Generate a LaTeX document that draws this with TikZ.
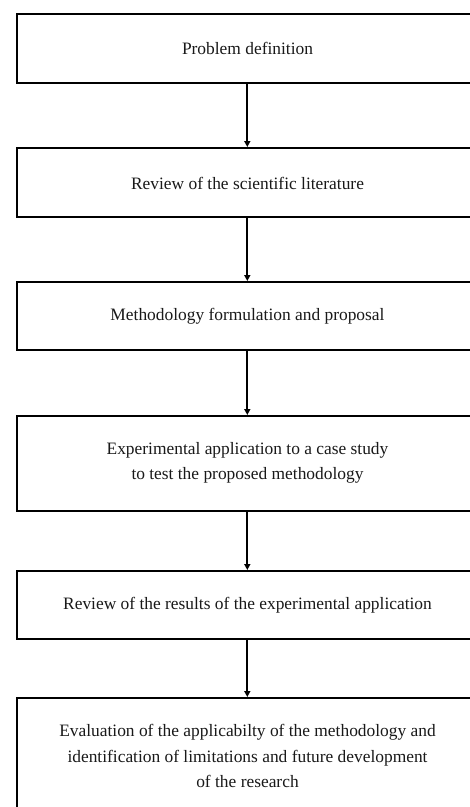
\documentclass[tikz,border=0pt]{standalone}
\usepackage{fontspec}
\setmainfont{Liberation Serif}
\usetikzlibrary{arrows.meta}
\begin{document}
\begin{tikzpicture}[x=1pt,y=-1pt,
  stepbox/.style={draw=black, line width=2.2pt, rectangle, inner sep=0pt},
  lbl/.style={font=\fontsize{17.4pt}{25.5pt}\selectfont, align=center, text=black!90},
  conn/.style={line width=1.8pt, -{Triangle[length=6pt,width=6pt]}}]
\useasboundingbox (0,0) rectangle (470,807);
\clip (0,0) rectangle (470,807);
\fill[white] (0,0) rectangle (470,807);
% boxes as nodes of given size; right side extends beyond the frame
\node[stepbox, minimum width=463pt, minimum height=69pt, anchor=north west] (b1) at (16,13) {};
\node[stepbox, minimum width=463pt, minimum height=69pt, anchor=north west] (b2) at (16,147) {};
\node[stepbox, minimum width=463pt, minimum height=68pt, anchor=north west] (b3) at (16,281) {};
\node[stepbox, minimum width=463pt, minimum height=95pt, anchor=north west] (b4) at (16,415) {};
\node[stepbox, minimum width=463pt, minimum height=68pt, anchor=north west] (b5) at (16,570) {};
\node[stepbox, minimum width=463pt, minimum height=140pt, anchor=north west] (b6) at (16,697) {};
% texts
\node[lbl] (t1) at (247.5,48) {Problem definition};
\node[lbl] (t2) at (247.5,183) {Review of the scientific literature};
\node[lbl] (t3) at (247.5,316) {Methodology formulation and proposal};
\node[lbl] (t4) at (247.5,463) {Experimental application to a case study\\to test the proposed methodology};
\node[lbl] (t5) at (247.5,605) {Review of the results of the experimental application};
\node[lbl] (t6) at (247.5,756) {Evaluation of the applicabilty of the methodology and\\identification of limitations and future development\\of the research};
% connectors
\coordinate (a1) at (247.3,82);
\coordinate (a2) at (247.3,216);
\coordinate (a3) at (247.3,349);
\coordinate (a4) at (247.3,510);
\coordinate (a5) at (247.3,638);
\coordinate (e2) at (247.3,147);
\coordinate (e3) at (247.3,281);
\coordinate (e4) at (247.3,415);
\coordinate (e5) at (247.3,570);
\coordinate (e6) at (247.3,697);
\draw[conn] (a1) -- (e2);
\draw[conn] (a2) -- (e3);
\draw[conn] (a3) -- (e4);
\draw[conn] (a4) -- (e5);
\draw[conn] (a5) -- (e6);
\end{tikzpicture}
\end{document}
